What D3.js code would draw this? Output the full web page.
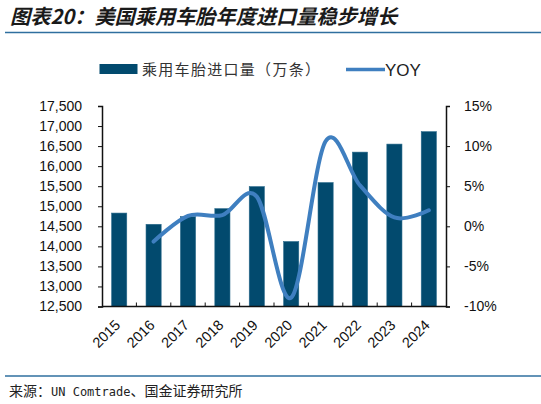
<!DOCTYPE html>
<meta charset="utf-8">
<script src="https://d3js.org/d3.v7.min.js"></script>
<style>
  body { margin: 0; background: #fff; }
  svg { display: block; }
</style>
<div id="chart"></div>
<script>

var years = ["2015", "2016", "2017", "2018", "2019", "2020", "2021", "2022", "2023", "2024"];
var imports = [14830, 14550, 14740, 14940, 15490, 14120, 15590, 16350, 16550, 16860];
var yoy = [null, -1.9, 1.3, 1.4, 3.7, -8.9, 10.6, 5.1, 1.1, 2.0];
var leftTicks = [12500, 13000, 13500, 14000, 14500, 15000, 15500, 16000, 16500, 17000, 17500];
var rightTicks = [-10, -5, 0, 5, 10, 15];

var W = 541, H = 404,
  plot = {left: 102, right: 446, top: 106, bottom: 306.5},
  barColor = "#024a6e",
  lineColor = "#3f7fc0",
  ruleColor = "#2f6f9f",
  latin = "Liberation Sans, Arial, sans-serif",
  cjk = "'Noto Sans CJK SC', sans-serif";

var svg = d3.select("#chart")
  .append("svg")
    .attr("width", W)
    .attr("height", H);

// title + rules
svg.append("text")
  .attr("x", 10).attr("y", 24)
  .style("font-family", cjk)
  .style("font-size", "20.2px")
  .style("font-weight", "bold")
  .style("font-style", "italic")
  .style("fill", "#1a1a1a")
  .text("图表20：美国乘用车胎年度进口量稳步增长");

svg.append("line")
  .attr("x1", 5).attr("x2", W).attr("y1", 32.5).attr("y2", 32.5)
  .attr("stroke", ruleColor).attr("stroke-width", 1.5);

svg.append("line")
  .attr("x1", 5).attr("x2", W).attr("y1", 376).attr("y2", 376)
  .attr("stroke", ruleColor).attr("stroke-width", 1.5);

var src = svg.append("text")
  .attr("x", 9).attr("y", 396)
  .style("font-family", cjk)
  .style("font-size", "14px")
  .style("fill", "#222");
src.append("tspan").text("来源：");
src.append("tspan").style("font-family", "'DejaVu Sans Mono', monospace").style("font-size", "12px").text("UN Comtrade");
src.append("tspan").text("、国金证券研究所");

// legend
svg.append("rect")
  .attr("x", 99.5).attr("y", 64).attr("width", 38).attr("height", 10)
  .attr("fill", barColor);
svg.append("text")
  .attr("x", 142).attr("y", 75)
  .style("font-family", cjk)
  .style("font-size", "15px")
  .style("letter-spacing", "1.3px")
  .style("fill", "#333")
  .text("乘用车胎进口量（万条）");
svg.append("line")
  .attr("x1", 346).attr("x2", 385).attr("y1", 69.5).attr("y2", 69.5)
  .attr("stroke", lineColor).attr("stroke-width", 3.5);
svg.append("text")
  .attr("x", 385).attr("y", 75.5)
  .style("font-family", latin)
  .style("font-size", "17px")
  .style("fill", "#222")
  .text("YOY");

// scales
var x = d3.scaleBand()
  .domain(years)
  .range([plot.left, plot.right])
  .paddingInner(0.56)
  .paddingOuter(0.28);

var xc = function(d) { return x(d) + x.bandwidth() / 2; };

var yL = d3.scaleLinear().domain([12500, 17500]).range([plot.bottom, plot.top]);
var yR = d3.scaleLinear().domain([-10, 15]).range([plot.bottom, plot.top]);

// bars
svg.selectAll("rect.bar")
  .data(years)
  .enter()
  .append("rect")
    .attr("class", "bar")
    .attr("x", function(d) { return x(d); })
    .attr("width", x.bandwidth())
    .attr("y", function(d, i) { return yL(imports[i]); })
    .attr("height", function(d, i) { return plot.bottom - yL(imports[i]); })
    .attr("fill", barColor)
    .attr("stroke", "#2a6a8c")
    .attr("stroke-width", 0.6);

// yoy line
var pts = years.map(function(d, i) { return {year: d, v: yoy[i]}; })
  .filter(function(p) { return p.v !== null; });

svg.append("path")
  .datum(pts)
  .attr("d", d3.line()
    .x(function(p) { return xc(p.year); })
    .y(function(p) { return yR(p.v); })
    .curve(d3.curveCardinal.tension(0)))
  .attr("fill", "none")
  .attr("stroke", lineColor)
  .attr("stroke-width", 4)
  .attr("stroke-linecap", "round");

// left axis
var leftAxis = svg.append("g")
  .attr("transform", "translate(" + plot.left + ",0)")
  .call(d3.axisLeft(yL).tickValues(leftTicks).tickSize(4).tickPadding(16)
    .tickFormat(d3.format(",")));

// right axis
var rightAxis = svg.append("g")
  .attr("transform", "translate(" + plot.right + ",0)")
  .call(d3.axisRight(yR).tickValues(rightTicks).tickSize(4).tickPadding(14)
    .tickFormat(function(d) { return d + "%"; }));

// bottom axis, ticks between categories pointing inward
var bottom = svg.append("g");
bottom.append("line")
  .attr("x1", plot.left).attr("x2", plot.right)
  .attr("y1", plot.bottom).attr("y2", plot.bottom)
  .attr("stroke", "#111").attr("stroke-width", 1.5);
bottom.selectAll("line.tk")
  .data(years.slice(1))
  .enter()
  .append("line")
    .attr("class", "tk")
    .attr("x1", function(d) { return x(d) - x.step() * x.paddingInner() / 2; })
    .attr("x2", function(d) { return x(d) - x.step() * x.paddingInner() / 2; })
    .attr("y1", plot.bottom).attr("y2", plot.bottom - 4)
    .attr("stroke", "#111");
bottom.selectAll("text")
  .data(years)
  .enter()
  .append("text")
    .attr("transform", function(d) { return "translate(" + (xc(d) + 2) + "," + (plot.bottom + 19.5) + ") rotate(-45)"; })
    .attr("text-anchor", "end")
    .style("font-family", latin)
    .style("font-size", "14.5px")
    .style("fill", "#111")
    .text(function(d) { return d; });

[leftAxis, rightAxis].forEach(function(g) {
  g.select(".domain").attr("stroke", "#111").attr("stroke-width", 1.5);
  g.selectAll(".tick line").attr("stroke", "#111");
  g.selectAll(".tick text")
    .style("font-family", latin)
    .style("font-size", "14px")
    .style("fill", "#111");
});

</script>
